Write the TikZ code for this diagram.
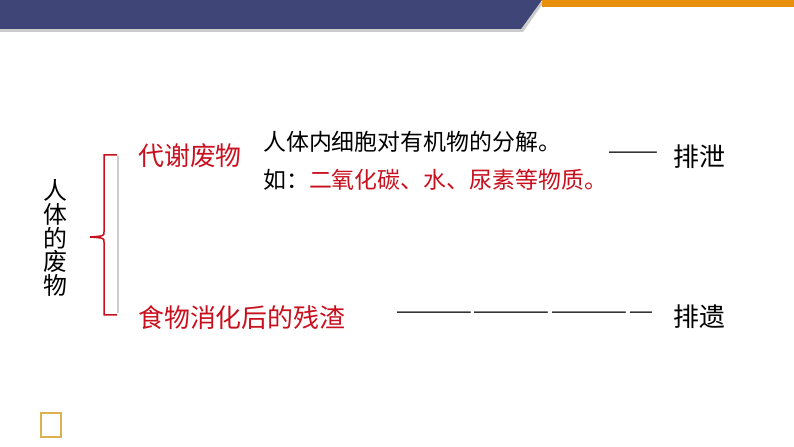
\documentclass[tikz,border=0pt]{standalone}
\usepackage{fontspec}
\setmainfont{Noto Sans CJK SC}
\definecolor{barnavy}{HTML}{3F4577}
\definecolor{barorange}{HTML}{E8900C}
\definecolor{wastered}{HTML}{C8101E}
\definecolor{boxgold}{HTML}{DDB050}
\begin{document}
\begin{tikzpicture}[x=1bp, y=-1bp,
		bigtext/.style={inner sep=0pt, anchor=west, font=\fontsize{26}{26}\selectfont},
		smalltext/.style={inner sep=0pt, anchor=west, font=\fontsize{23}{23}\selectfont},
		dashtext/.style={bigtext, font=\fontsize{26}{26}\selectfont\bfseries\addfontfeature{CharacterWidth=Full}}]
		\useasboundingbox (0,0) rectangle (794,447);
		
		% title bar
		\fill[black!20] (0,2) -- (544,2) -- (523,32) -- (0,32) -- cycle;
		\fill[barnavy] (0,0) -- (542,0) -- (521,29) -- (0,29) -- cycle;
		\fill[barorange] (542,0) rectangle (794,7);
		
		\node[inner sep=0pt, align=center, font=\fontsize{24}{24}\selectfont] (title) at (55,238) {人\\体\\的\\废\\物};
		
		% brace
		\draw[black!20, line width=1.5bp] (118,156) -- (118,313);
		\draw[wastered, line width=1.5bp] (117,155) -- (104,155) -- (104,232)
			.. controls (104,236) .. (90,237) .. controls (104,238) .. (104,242) -- (104,315) -- (117,315);
		
		\node[bigtext, text=wastered] (metab) at (138,156) {代谢废物};
		\node[bigtext, text=wastered] (residue) at (138,318) {食物消化后的残渣};
		
		\node[smalltext] (decomp) at (263,142) {人体内细胞对有机物的分解。};
		\node[smalltext] (sample) at (263,180) {如：\textcolor{wastered}{二氧化碳、水、尿素等物质。}};
		
		\node[dashtext] (dashA) at (607,157) {——};
		\node[bigtext] (excrete) at (673,157) {排泄};
		\node[dashtext] (dashB) at (395,317) {——————————};
		\node[bigtext] (egest) at (673,317) {排遗};
		
		\draw[boxgold, line width=1.2bp] (41,413) rectangle (61,437);
	\end{tikzpicture}
\end{document}
